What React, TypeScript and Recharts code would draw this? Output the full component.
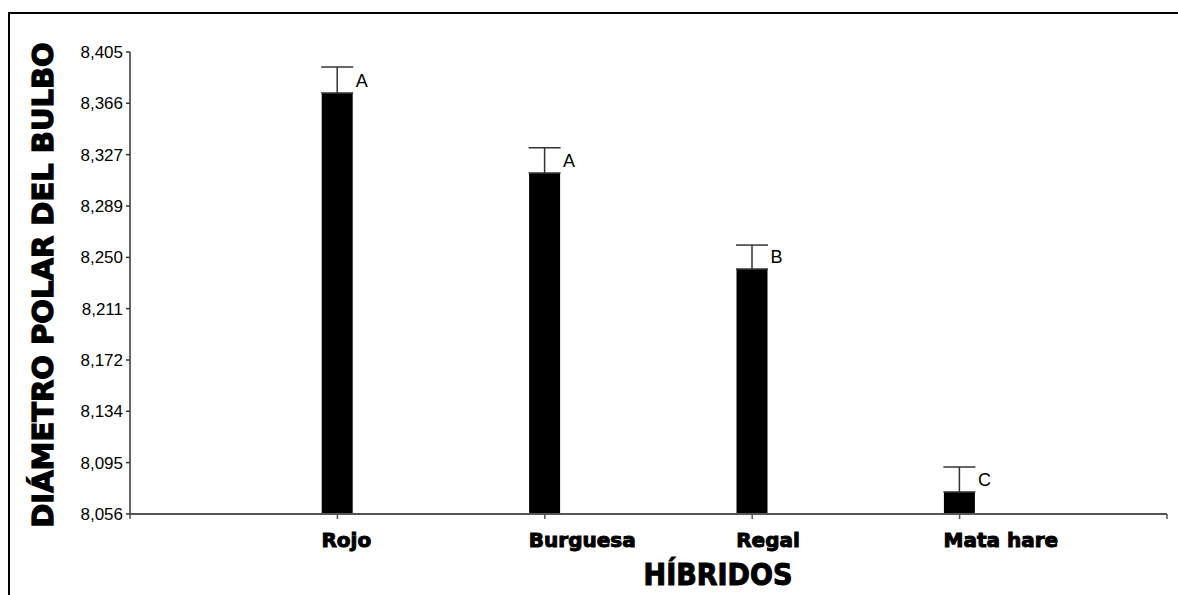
import React from 'react';
import { BarChart, Bar, XAxis, YAxis, ErrorBar, LabelList } from 'recharts';

const categories = ['Rojo', 'Burguesa', 'Regal', 'Mata hare'];
const means = [8.374, 8.3136, 8.241, 8.0726];
const errors = [0.0196, 0.0189, 0.0181, 0.0189];
const letters = ['A', 'A', 'B', 'C'];
const yTicks = [8.056, 8.0948, 8.1336, 8.1723, 8.2111, 8.2498, 8.2886, 8.3274, 8.3662, 8.4049];
const xTicks = [0, 1, 2, 3, 4, 5];

const data = categories.map((name, i) => ({
  x: i + 1,
  name,
  value: means[i],
  err: [0, errors[i]],
  letter: letters[i],
}));

const fmtY = (v: number) => v.toFixed(3).replace('.', ',');

const XTick = (props: any) => {
  const { x, y, payload } = props;
  const idx = payload.value - 1;
  const label = categories[idx];
  if (!label) return null;
  return (
    <text
      x={x - 16}
      y={y + 26}
      textAnchor="start"
      fill="#000"
      stroke="#000"
      strokeWidth={1}
      style={{ fontFamily: 'DejaVu Sans', fontWeight: 700, fontSize: 20 }}
    >
      {label}
    </text>
  );
};

const LetterLabel = (props: any) => {
  const { x, y, width, value } = props;
  return (
    <text
      x={x + width + 3}
      y={y - 6}
      fill="#000"
      style={{ fontFamily: 'Liberation Sans', fontSize: 18 }}
    >
      {value}
    </text>
  );
};

export default function App() {
  return (
    <div style={{ position: 'absolute', left: 0, top: 0, width: 1178, height: 595, background: '#fff', overflow: 'hidden' }}>
      <div
        style={{
          position: 'absolute',
          left: 8,
          top: 12,
          width: 1178,
          height: 600,
          borderTop: '2px solid #000',
          borderLeft: '2px solid #000',
          boxSizing: 'border-box',
        }}
      />
      <div style={{ position: 'absolute', left: 0, top: 0 }}>
        <BarChart
          width={1178}
          height={595}
          data={data}
          margin={{ top: 52, right: 11, bottom: 41, left: 0 }}
        >
          <XAxis
            dataKey="x"
            type="number"
            domain={[0, 5]}
            ticks={xTicks}
            interval={0}
            allowDataOverflow
            height={40}
            tickSize={5}
            axisLine={{ stroke: '#555', strokeWidth: 2 }}
            tickLine={{ stroke: '#555', strokeWidth: 1.5 }}
            tick={<XTick />}
          />
          <YAxis
            type="number"
            domain={[8.056, 8.4049]}
            ticks={yTicks}
            interval={0}
            allowDataOverflow
            width={130}
            tickSize={4}
            tickMargin={3}
            tickFormatter={fmtY}
            axisLine={{ stroke: '#333', strokeWidth: 1.5 }}
            tickLine={{ stroke: '#333', strokeWidth: 1.5 }}
            tick={{ fill: '#000', fontSize: 17, fontFamily: 'Liberation Sans' }}
          />
          <Bar dataKey="value" fill="#000" barSize={31} isAnimationActive={false}>
            <ErrorBar dataKey="err" width={16} stroke="#333" strokeWidth={1.5} direction="y" />
            <LabelList dataKey="letter" content={<LetterLabel />} />
          </Bar>
        </BarChart>
      </div>
      <svg
        width={1178}
        height={595}
        style={{ position: 'absolute', left: 0, top: 0, pointerEvents: 'none' }}
      >
        <text
          x={43}
          y={285}
          transform="rotate(-90 43 285)"
          textAnchor="middle"
          dominantBaseline="central"
          fill="#000"
          stroke="#000"
          strokeWidth={1.3}
          style={{ fontFamily: 'DejaVu Sans', fontWeight: 700, fontSize: 29 }}
        >
          DIÁMETRO POLAR DEL BULBO
        </text>
        <text
          x={718}
          y={585}
          textAnchor="middle"
          fill="#000"
          stroke="#000"
          strokeWidth={1}
          style={{ fontFamily: "'DejaVu Sans Condensed', 'DejaVu Sans'", fontWeight: 700, fontSize: 30 }}
        >
          HÍBRIDOS
        </text>
      </svg>
    </div>
  );
}
